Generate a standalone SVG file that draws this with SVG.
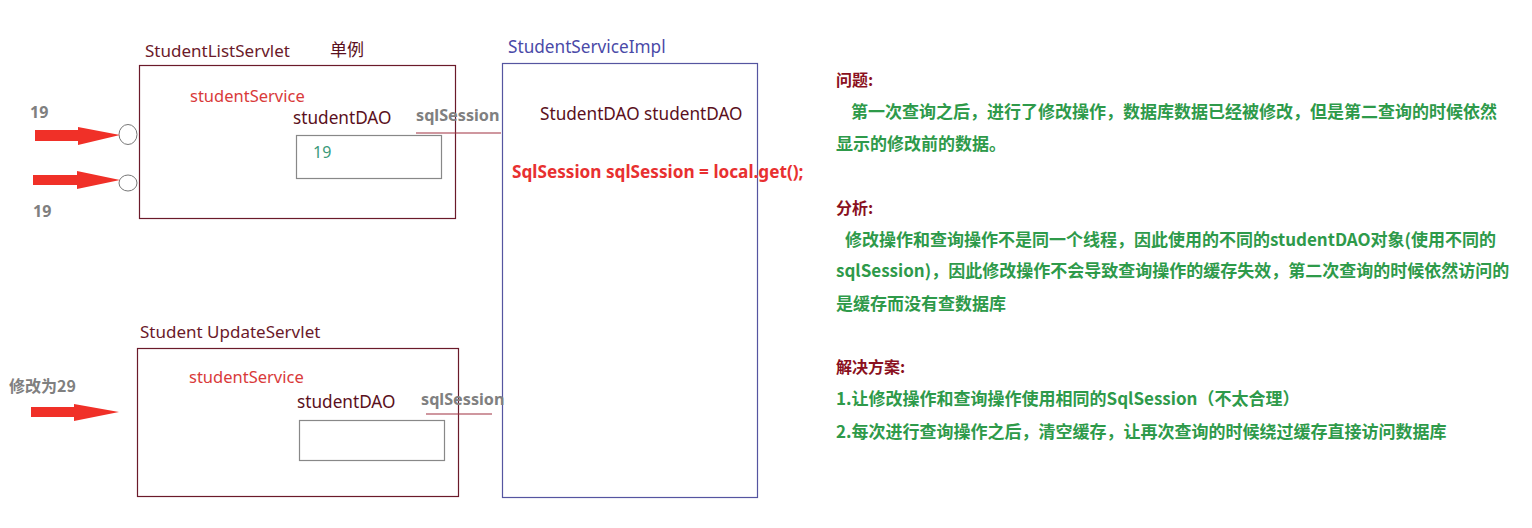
<svg xmlns="http://www.w3.org/2000/svg" width="1532" height="528" viewBox="0 0 1532 528">
<style>
text{font-family:"Noto Sans","Noto Sans CJK SC",sans-serif;}
.t{font-size:17px;fill:#6b1a2a;}
.svc{font-size:16.5px;fill:#d93a3a;}
.dao{font-size:17.2px;fill:#5a1020;}
.sql{font-size:16.2px;font-weight:bold;fill:#808080;}
.num{font-size:16px;font-weight:bold;fill:#808080;}
.box{fill:none;stroke:#6b1a2a;stroke-width:1.2;}
.inner{fill:none;stroke:#888;stroke-width:1.2;}
.ln{stroke:#a03040;stroke-width:1.2;}
.arr{fill:#f03028;}
.h{font-family:"Noto Sans CJK SC",sans-serif;font-size:16px;font-weight:bold;fill:#8a1020;}
.g{font-family:"Noto Sans CJK SC",sans-serif;font-size:17px;font-weight:bold;fill:#2e9a4a;}
</style>
<g id="studentListServlet">
<text class="t" x="145" y="57">StudentListServlet</text>
<text class="t" x="330" y="56" style="font-family:'Noto Sans CJK SC',sans-serif;fill:#5a1020">单例</text>
<rect class="box" x="139.5" y="65.5" width="316" height="153"/>
<text class="svc" x="190" y="102">studentService</text>
<text class="dao" x="293" y="124">studentDAO</text>
<rect class="inner" x="296.5" y="135.5" width="145" height="43"/>
<text x="313" y="158" style="font-size:16px;fill:#3a9a7a">19</text>
<ellipse cx="128" cy="134.5" rx="9" ry="10" fill="#fff" stroke="#777" stroke-width="1"/>
<ellipse cx="128" cy="183" rx="9" ry="8" fill="#fff" stroke="#777" stroke-width="1"/>
</g>
<g id="studentUpdateServlet">
<text class="t" x="140" y="338">Student UpdateServlet</text>
<rect class="box" x="137.5" y="348.5" width="321" height="148"/>
<text class="svc" x="189" y="383">studentService</text>
<text class="dao" x="297" y="408">studentDAO</text>
<rect class="inner" x="299.5" y="420.5" width="145" height="40"/>
</g>
<g id="studentServiceImpl">
<text x="508" y="53" style="font-size:17.2px;fill:#4a4aa8">StudentServiceImpl</text>
<rect x="502.5" y="63.5" width="255" height="434" fill="none" stroke="#5555a0" stroke-width="1.2"/>
<text class="dao" x="540" y="120">StudentDAO studentDAO</text>
<text x="512" y="178" style="font-size:17.2px;font-weight:bold;fill:#e83030">SqlSession sqlSession = local.get();</text>
</g>
<g id="connectors">
<line class="ln" x1="416" y1="133" x2="501" y2="133"/>
<line class="ln" x1="426" y1="414" x2="492" y2="414"/>
<polygon class="arr" points="35,130 78,130 78,127 120,135 78,145 78,141 35,141"/>
<polygon class="arr" points="33,175 77,175 77,171 120,180 77,189 77,185 33,185"/>
<polygon class="arr" points="31,407 74,407 74,404 119,412 74,421 74,417 31,417"/>
</g>
<g id="labels">
<text class="sql" x="416" y="121">sqlSession</text>
<text class="sql" x="421" y="405">sqlSession</text>
<text class="num" x="30" y="118">19</text>
<text class="num" x="33" y="217">19</text>
<text class="num" x="9" y="392" style="font-family:'Noto Sans CJK SC',sans-serif">修改为29</text>
</g>
<g id="notes">
<text class="h" x="836" y="86">问题:</text>
<text class="g" x="851" y="118">第一次查询之后，进行了修改操作，数据库数据已经被修改，但是第二查询的时候依然</text>
<text class="g" x="836" y="150">显示的修改前的数据。</text>
<text class="h" x="836" y="214">分析:</text>
<text class="g" x="845" y="246">修改操作和查询操作不是同一个线程，因此使用的不同的studentDAO对象(使用不同的</text>
<text class="g" x="836" y="277">sqlSession)，因此修改操作不会导致查询操作的缓存失效，第二次查询的时候依然访问的</text>
<text class="g" x="836" y="310">是缓存而没有查数据库</text>
<text class="h" x="836" y="373">解决方案:</text>
<text class="g" x="836" y="405">1.让修改操作和查询操作使用相同的SqlSession（不太合理）</text>
<text class="g" x="836" y="438">2.每次进行查询操作之后，清空缓存，让再次查询的时候绕过缓存直接访问数据库</text>
</g>
</svg>
